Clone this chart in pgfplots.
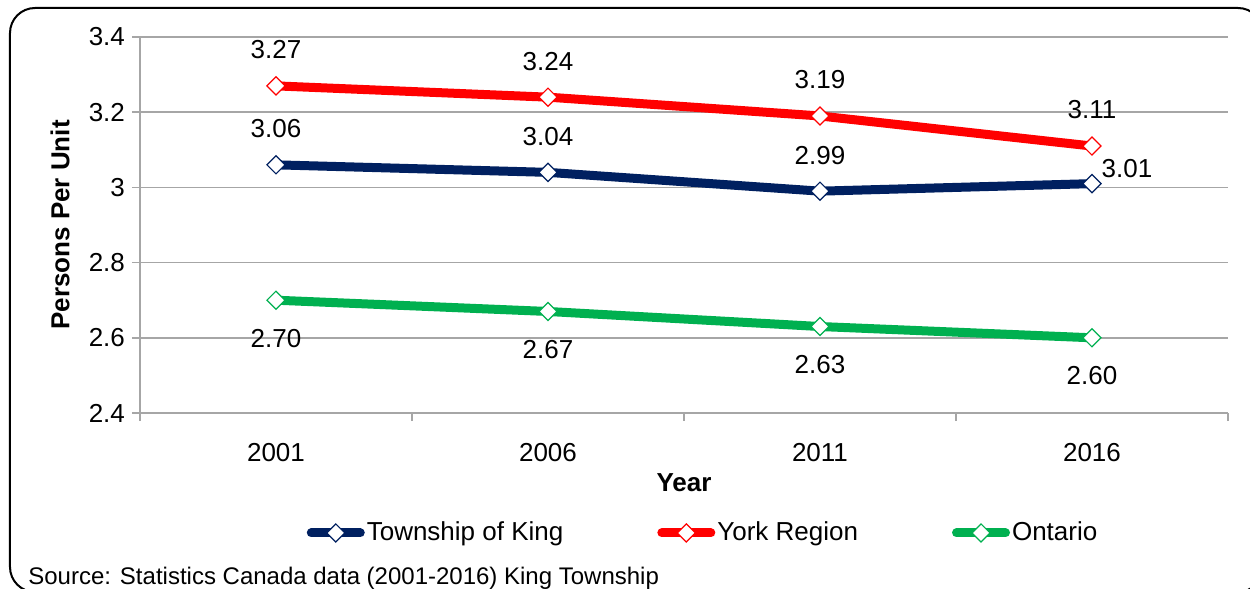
\documentclass[border=0pt]{standalone}
\usepackage{fontspec}
\setmainfont{Liberation Sans}
\usepackage{pgfplots}
\pgfplotsset{compat=1.18}
\definecolor{kingblue}{HTML}{002060}
\definecolor{yorkred}{HTML}{FF0000}
\definecolor{ontgreen}{HTML}{00B050}
\definecolor{gridgray}{HTML}{A6A6A6}

\begin{document}
\begin{tikzpicture}
\useasboundingbox (-70pt,-88pt) rectangle (555pt,206.5pt);
% frame round the chart, cut off at right and bottom
\draw[line width=1pt, rounded corners=12.5pt] (-65pt,202.5pt) rectangle (561.5pt,-89.5pt);
\begin{axis}[
    scale only axis,
    width=544pt, height=188pt,
    xmin=-0.5, xmax=3.5,
    ymin=2.4, ymax=3.4,
    ytick={2.4,2.6,2.8,3,3.2,3.4},
    xtick={0,1,2,3},
    xticklabels={2001,2006,2011,2016},
    minor xtick={-0.5,0.5,1.5,2.5,3.5},
    axis x line*=bottom,
    axis y line*=left,
    axis line style={gridgray, line width=0.75pt, -},
    ymajorgrids,
    grid style={gridgray, line width=0.75pt},
    tick align=outside,
    major tick length=4pt,
    minor tick length=4pt,
    major x tick style={draw=none},
    minor x tick style={gridgray, line width=0.75pt},
    ytick style={gridgray, line width=0.75pt},
    ticklabel style={font=\fontsize{13}{15}\selectfont, text=black},
    /pgf/number format/assume math mode=true,
    xticklabel style={anchor=center, yshift=-16pt},
    ylabel={Persons Per Unit},
    every axis y label/.style={at={(axis description cs:-0.0735,0.5)}, rotate=90, anchor=center,
        font=\fontsize{13}{15}\selectfont\bfseries},
    xlabel={Year},
    every axis x label/.style={at={(axis description cs:0.5,-0.186)}, anchor=center,
        font=\fontsize{13}{15}\selectfont\bfseries},
    nodes near coords={\pgfmathprintnumber[fixed,fixed zerofill,precision=2]{\pgfplotspointmeta}},
    every node near coord/.append style={font=\fontsize{13}{15}\selectfont, text=black, anchor=center},
    every axis plot/.append style={line width=4.5pt, mark=square*, mark size=3.2pt,
        mark options={fill=white, line width=0.6pt, rotate=45, solid}},
    legend columns=3,
    legend style={draw=none, fill=none, at={(axis description cs:0.5175,-0.319)}, anchor=center,
        font=\fontsize{13}{15}\selectfont, inner sep=0pt, nodes={inner xsep=1pt},
        /tikz/every even column/.append style={column sep=46pt}},
    legend image code/.code={
        \draw[mark repeat=2, mark phase=2, line cap=round, #1] plot coordinates {(2.25pt,0pt) (14.5pt,0pt) (26.75pt,0pt)};
    },
]
\addplot[kingblue, visualization depends on={value \coordindex \as \ci},
    nodes near coords style={xshift={(\ci>2)*17.5pt}, yshift={18pt-(\ci>2)*10.5pt}}]
    coordinates {(0,3.06) (1,3.04) (2,2.99) (3,3.01)};
\addlegendentry{Township of King}
\addplot[yorkred, nodes near coords style={yshift=18pt}]
    coordinates {(0,3.27) (1,3.24) (2,3.19) (3,3.11)};
\addlegendentry{York Region}
\addplot[ontgreen, nodes near coords style={yshift=-19pt}]
    coordinates {(0,2.70) (1,2.67) (2,2.63) (3,2.60)};
\addlegendentry{Ontario}
\end{axis}
\node[anchor=west, font=\fontsize{12}{14}\selectfont, inner sep=0pt] at (-56pt,-82.5pt)
    {Source: Statistics Canada data (2001-2016) King Township};
\end{tikzpicture}
\end{document}
